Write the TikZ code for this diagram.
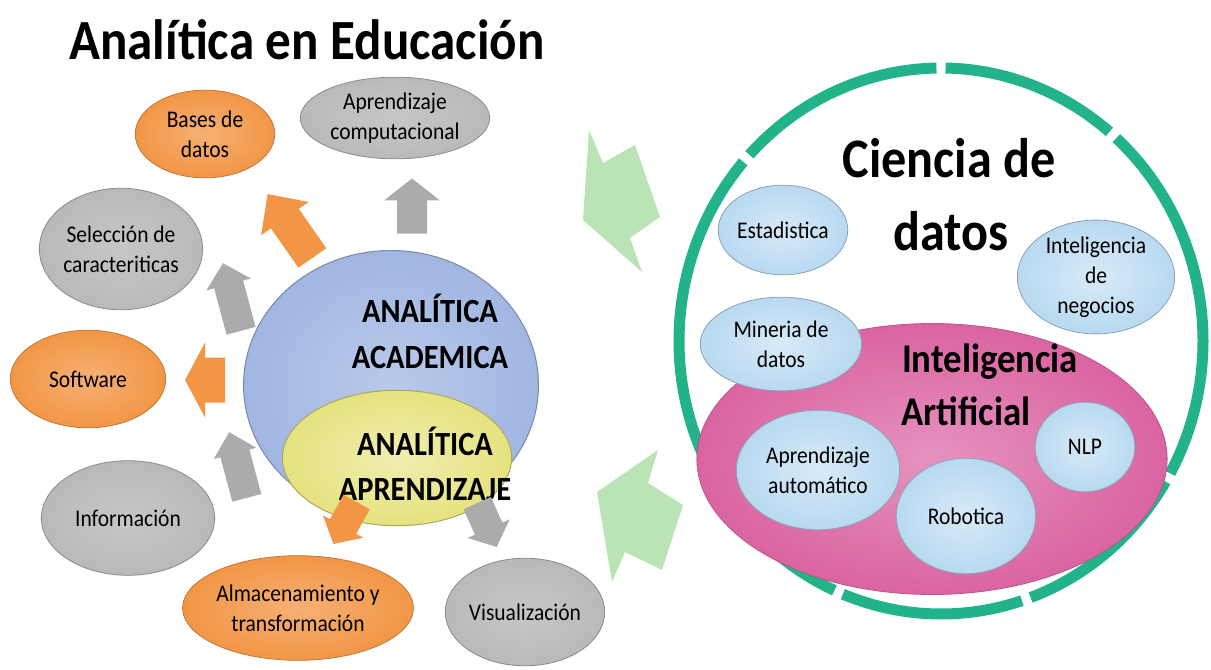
\documentclass[tikz,border=0pt]{standalone}
\usepackage{fontspec}
\setmainfont{Carlito}[FakeStretch=0.9]
\usetikzlibrary{shapes.geometric}
\definecolor{orng}{HTML}{F29646}
\definecolor{gry}{HTML}{B9B9B9}
\definecolor{blu}{HTML}{A1B7E2}
\definecolor{ylw}{HTML}{E6E27E}
\definecolor{pnk}{HTML}{DA64A2}
\definecolor{lbl}{HTML}{B8D9F1}
\definecolor{ringc}{HTML}{22B38A}
\definecolor{grn}{HTML}{BAE4B5}
\definecolor{garr}{HTML}{ABABAB}
% block arrow: style, centre, angle, length, width, shaft, head
\newcommand{\blockarr}[7]{%
  \begin{scope}[shift={(#2)}, rotate=#3, x=1bp, y=1bp]
    \fill[#1] (-#4/2,-#6/2) -- (#4/2-#7,-#6/2) -- (#4/2-#7,-#5/2) -- (#4/2,0)
      -- (#4/2-#7,#5/2) -- (#4/2-#7,#6/2) -- (-#4/2,#6/2) -- cycle;
  \end{scope}}
\begin{document}
\begin{tikzpicture}[x=1bp,y=-1bp,
  bubble/.style={ellipse, inner sep=0pt, align=center, font=\fontsize{24}{30}\selectfont},
  obub/.style={bubble, draw=orng!80!black, line width=0.8bp, inner color=orng!75!white, outer color=orng},
  gbub/.style={bubble, draw=gry!75!black, line width=0.8bp, inner color=gry!80!white, outer color=gry},
  lbub/.style={bubble, draw=lbl!75!black, line width=0.8bp, inner color=lbl!55!white, outer color=lbl},
  big/.style={inner sep=0pt, anchor=base, font=\fontsize{56}{60}\selectfont\bfseries},
  mid/.style={inner sep=0pt, anchor=base, font=\fontsize{34}{40}\selectfont\bfseries},
  ialbl/.style={inner sep=0pt, anchor=base, font=\fontsize{41}{45}\selectfont\bfseries},
  oarrow/.style={fill=orng},
  garrow/.style={fill=garr},
  ring/.style={draw=ringc, line width=11bp},
  grnarrow/.style={fill=grn}
]
\useasboundingbox (0,0) rectangle (1211,670);
\fill[white] (0,0) rectangle (1211,670);

% ---------- title ----------
\node[big, font=\fontsize{57}{60}\selectfont\bfseries] (title) at (307,60) {Analítica en Educación};

% ---------- left cluster ----------
\node[ellipse, minimum width=296, minimum height=270, draw=blu!75!black, line width=1bp,
      inner color=blu!75!white, outer color=blu] (acad) at (391,385) {};
\node[ellipse, minimum width=230, minimum height=136, draw=ylw!75!black, line width=1bp,
      inner color=ylw!60!white, outer color=ylw] (apre) at (397,458) {};
\node[mid] (acad1) at (430,322) {ANALÍTICA};
\node[mid] (acad2) at (430,368) {ACADEMICA};
\node[mid] (apre1) at (425,455) {ANALÍTICA};
\node[mid] (apre2) at (425,500) {APRENDIZAJE};

\node[obub, minimum width=140, minimum height=88] (bases) at (205,134) {Bases de\\datos};
\node[gbub, minimum width=190, minimum height=82] (aprc) at (395,118) {Aprendizaje\\computacional};
\node[gbub, minimum width=152, minimum height=122] (sel) at (121,249) {Selección de\\caracteriticas};
\node[obub, minimum width=156, minimum height=98] (soft) at (88,379) {Software};
\node[gbub, minimum width=174, minimum height=115] (info) at (128,518) {Información};
\node[obub, minimum width=226, minimum height=105] (alm) at (298,608) {Almacenamiento y\\transformación};
\node[gbub, minimum width=160, minimum height=108] (vis) at (525,612) {Visualización};

% block arrows from the centre towards the outer items
\blockarr{garrow}{412,206}{90}{55}{56}{30}{22}
\blockarr{oarrow}{290,226}{125}{78}{58}{34}{30}
\blockarr{garrow}{232,297}{105}{70}{46}{30}{22}
\blockarr{oarrow}{205,380}{180}{40}{75}{45}{20}
\blockarr{garrow}{238,465}{105}{68}{44}{30}{22}
\blockarr{oarrow}{345,523}{-119}{48}{46}{30}{20}
\blockarr{garrow}{487,525}{-66}{48}{46}{30}{20}

% ---------- green arrows ----------
\path[grnarrow] (589,130) -- (603,163) -- (635,145) -- (660,217) -- (630,238) -- (642,272) -- (583,220) -- cycle;
\path[grnarrow] (658,450) -- (648,483) -- (683,505) -- (662,570) -- (625,552) -- (612,582) -- (597,492) -- cycle;

% ---------- right cluster ----------
\node[ellipse, minimum width=536, minimum height=558, inner sep=0pt] (cdring) at (941,341) {};
\foreach \a/\b in {31/70, 72/112, 114/149, 151/221, 223/269, 271/310, 312/389}
  \draw[ring] (941,341) ++(\a:262 and 273) arc[start angle=\a, end angle=\b, x radius=262, y radius=273];

\node[ellipse, minimum width=472, minimum height=272, inner sep=0pt, draw=pnk!85!black, line width=0.8bp,
      inner color=pnk!70!white, outer color=pnk] (ia) at (932,459) {};

\node[big] (cd1) at (949,178) {Ciencia de};
\node[big] (cd2) at (951,250) {datos};

\node[lbub, minimum width=130, minimum height=90] (est) at (783,230) {Estadistica};
\node[lbub, minimum width=158, minimum height=104] (neg) at (1096,277) {Inteligencia\\de\\negocios};
\node[lbub, minimum width=162, minimum height=94] (min) at (781,344) {Mineria de\\datos};

\node[ialbl] (ia1) at (990,372) {Inteligencia};
\node[ialbl] (ia2) at (966,425) {Artificial};

\node[lbub, minimum width=164, minimum height=120] (aa) at (818,470) {Aprendizaje\\automático};
\node[lbub, minimum width=100, minimum height=90] (nlp) at (1085,447) {NLP};
\node[lbub, minimum width=140, minimum height=116] (rob) at (966,516) {Robotica};
\end{tikzpicture}
\end{document}
